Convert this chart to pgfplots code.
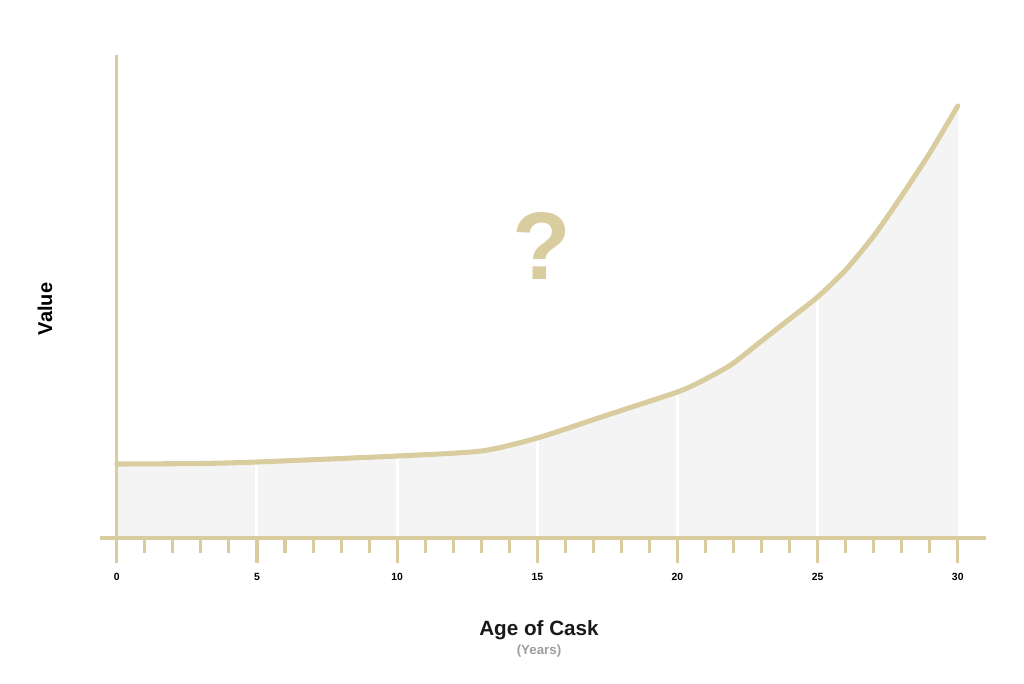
\documentclass[border=0pt]{standalone}
\usepackage{fontspec}
\setmainfont{Liberation Sans}
\usepackage{pgfplots}
\pgfplotsset{compat=1.18}
\definecolor{gold}{RGB}{217,205,160}
\definecolor{fillgray}{RGB}{244,244,244}
\begin{document}
\begin{tikzpicture}[x=0.75pt,y=0.75pt]
\path[use as bounding box] (0,0) rectangle (1024,683);
\begin{axis}[
  at={(100*0.75pt,120*0.75pt)}, anchor=south west,
  scale only axis, width=885.8*0.75pt, height=508*0.75pt,
  xmin=-0.6, xmax=31, ymin=-25, ymax=483,
  axis lines=none, clip=false,
]
\addplot[fill=fillgray, draw=none, smooth, tension=0.4] coordinates {
(0,74) (3,74.5) (5,76) (10,82) (13,87) (15,100) (17.5,123) (20,146) (20.8,156) (21.9,173) (23,197) (24,219) (25,241) (26,268) (27,302) (27.9,338) (29,385) (30,432)
} -- (axis cs:30,0) -- (axis cs:0,0) -- cycle;
\foreach \g/\v in {5/76,10/82,15/100,20/146,25/241}{
  \edef\tmp{\noexpand\draw[white, line width=2.25pt] (axis cs:\g,0) -- (axis cs:\g,\v);}\tmp
}
\addplot[gold, line width=3.8pt, line join=round, line cap=round, smooth, tension=0.4] coordinates {
(0,74) (3,74.5) (5,76) (10,82) (13,87) (15,100) (17.5,123) (20,146) (20.8,156) (21.9,173) (23,197) (24,219) (25,241) (26,268) (27,302) (27.9,338) (29,385) (30,432)
};
% axes
\draw[gold, line width=2.3pt] (axis cs:-0.6,0) -- (axis cs:31,0);
\draw[gold, line width=2.3pt] (axis cs:0,-25) -- (axis cs:0,483);
\foreach \t in {1,...,30}{
  \pgfmathtruncatemacro{\r}{mod(\t,5)}
  \ifnum\r=0
    \edef\tmp{\noexpand\draw[gold, line width=2.3pt] (axis cs:\t,0) -- (axis cs:\t,-25);}\tmp
  \else
    \edef\tmp{\noexpand\draw[gold, line width=2.3pt] (axis cs:\t,0) -- (axis cs:\t,-15);}\tmp
  \fi
}
\foreach \t in {0,5,...,30}{
  \edef\tmp{\noexpand\node[font=\noexpand\bfseries\noexpand\fontsize{7.8}{9}\noexpand\selectfont, text=black] at (axis cs:\t,-39) {\t};}\tmp
}
\node[font=\bfseries\fontsize{72}{72}\selectfont, text=gold] at (axis cs:15.15,292) {?};
\end{axis}
\node[font=\bfseries\fontsize{15.5}{18}\selectfont, text=black!90] at (539,53) {Age of Cask};
\node[font=\bfseries\fontsize{10}{12}\selectfont, text=black!38] at (539,32) {(Years)};
\node[font=\bfseries\fontsize{15}{18}\selectfont, text=black, rotate=90] at (45,374) {Value};
\end{tikzpicture}
\end{document}
